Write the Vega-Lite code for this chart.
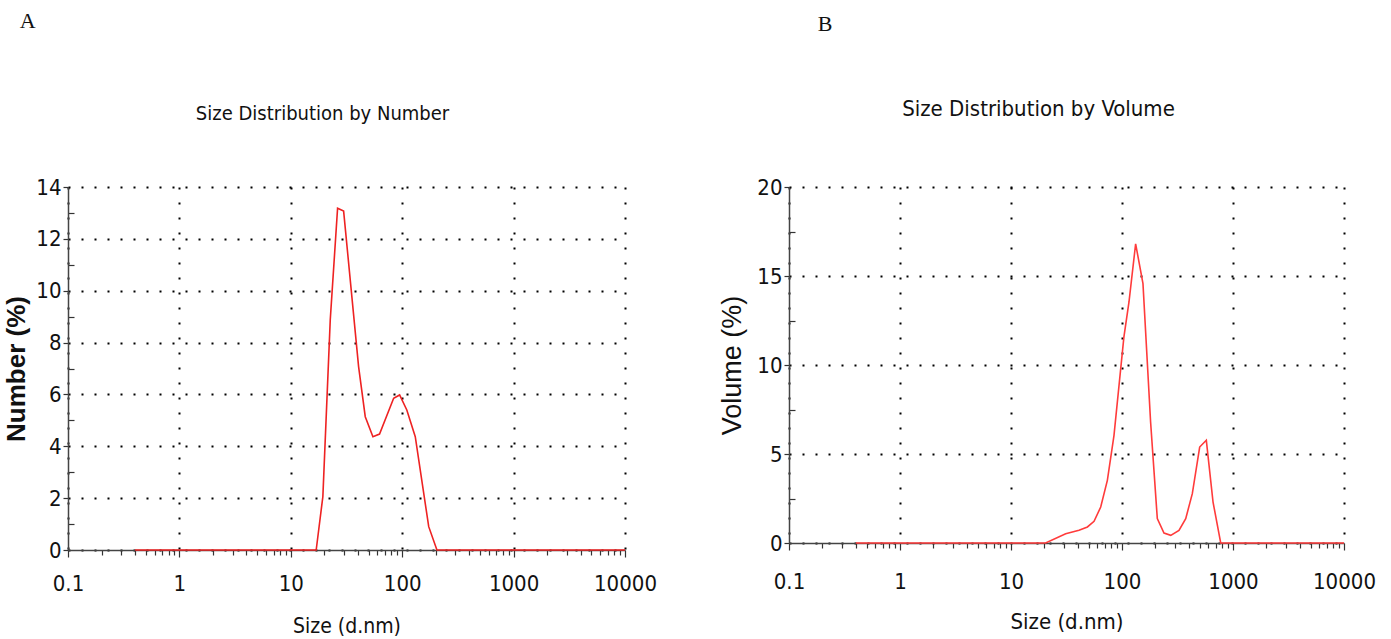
{
  "$schema": "https://vega.github.io/schema/vega-lite/v6.json",
  "background": "white",
  "padding": {"top": 10, "left": 3, "right": 5, "bottom": 5},
  "spacing": 61,
  "config": {
    "view": {"stroke": null},
    "axis": {
      "domainColor": "#444",
      "domainWidth": 1.5,
      "tickColor": "#333",
      "tickWidth": 1.2,
      "labelFont": "DejaVu Sans Condensed, Liberation Sans",
      "labelFontSize": 22,
      "labelColor": "#111",
      "titleFont": "Liberation Sans",
      "titleColor": "#111",
      "titleFontWeight": "normal",
      "gridColor": "#000",
      "gridWidth": 2,
      "labelOverlap": false,
      "labelBound": false,
      "labelFlush": false
    },
    "title": {"font": "DejaVu Sans Condensed, Liberation Sans", "fontSize": 22, "fontWeight": "normal", "color": "#111"}
  },
  "datasets": {
    "number": [
      {"size": 0.4, "pct": 0},
      {"size": 16.9, "pct": 0},
      {"size": 19.4, "pct": 2.06},
      {"size": 22.6, "pct": 8.87},
      {"size": 26.3, "pct": 13.18},
      {"size": 29.8, "pct": 13.07},
      {"size": 40.6, "pct": 7.07},
      {"size": 46.6, "pct": 5.14},
      {"size": 54.6, "pct": 4.37},
      {"size": 62.6, "pct": 4.47},
      {"size": 83.8, "pct": 5.85},
      {"size": 94.8, "pct": 5.98},
      {"size": 110, "pct": 5.4},
      {"size": 131, "pct": 4.37},
      {"size": 173, "pct": 0.9},
      {"size": 205, "pct": 0},
      {"size": 10000, "pct": 0}
    ],
    "volume": [
      {"size": 0.4, "pct": 0},
      {"size": 20.5, "pct": 0},
      {"size": 31.1, "pct": 0.52},
      {"size": 41, "pct": 0.71},
      {"size": 48.8, "pct": 0.9},
      {"size": 56, "pct": 1.22},
      {"size": 64.3, "pct": 2.02},
      {"size": 73.8, "pct": 3.52},
      {"size": 84.7, "pct": 6.05},
      {"size": 104, "pct": 11.57},
      {"size": 115.6, "pct": 13.54},
      {"size": 132.7, "pct": 16.81},
      {"size": 154.5, "pct": 14.57},
      {"size": 181, "pct": 6.8},
      {"size": 208, "pct": 1.37},
      {"size": 239, "pct": 0.56},
      {"size": 275, "pct": 0.43},
      {"size": 326, "pct": 0.71},
      {"size": 375, "pct": 1.37},
      {"size": 430, "pct": 2.77},
      {"size": 501, "pct": 5.39},
      {"size": 575, "pct": 5.77},
      {"size": 661, "pct": 2.3},
      {"size": 775, "pct": 0},
      {"size": 10000, "pct": 0}
    ]
  },
  "hconcat": [
    {
      "title": {"text": "A", "anchor": "start", "frame": "bounds", "font": "Liberation Serif", "fontSize": 22, "dx": 16, "offset": 71},
      "vconcat": [
        {
          "title": {"text": "Size Distribution by Number", "fontSize": 20, "dx": -24, "offset": 52},
          "width": 557,
          "height": 363,
          "data": {"name": "number"},
          "mark": {"type": "line", "color": "#ee2222", "strokeWidth": 1.6},
          "encoding": {
            "x": {
              "field": "size", "type": "quantitative",
              "scale": {"type": "log", "domain": [0.1, 10000], "nice": false},
              "axis": {
                "title": "Size (d.nm)",
                "titleFont": "DejaVu Sans Condensed, Liberation Sans",
                "titleFontSize": 21,
                "titlePadding": 21,
                "values": [0.1,0.2,0.3,0.4,0.5,0.6,0.7,0.8,0.9,1,2,3,4,5,6,7,8,9,10,20,30,40,50,60,70,80,90,100,200,300,400,500,600,700,800,900,1000,2000,3000,4000,5000,6000,7000,8000,9000,10000],
                "labelExpr": "abs(log(datum.value)/LN10 - round(log(datum.value)/LN10)) < 1e-6 ? format(datum.value, '~g') : ''",
                "labelPadding": 16,
                "tickSize": {"condition": {"test": "abs(log(datum.value)/LN10 - round(log(datum.value)/LN10)) < 1e-6", "value": 7}, "value": 5},
                "grid": true,
                "gridDash": [2, 13],
                "gridOpacity": {"condition": {"test": "abs(log(datum.value)/LN10 - round(log(datum.value)/LN10)) < 1e-6", "value": 1}, "value": 0}
              }
            },
            "y": {
              "field": "pct", "type": "quantitative",
              "scale": {"domain": [0, 14], "nice": false},
              "axis": {
                "title": "Number (%)",
                "titleFontSize": 26,
                "titleFontWeight": "bold",
                "titlePadding": 6,
                "values": [0,1,2,3,4,5,6,7,8,9,10,11,12,13,14],
                "labelExpr": "datum.value % 2 == 0 ? datum.value : ''",
                "labelPadding": 2,
                "tickSize": {"condition": {"test": "datum.value % 2 == 0", "value": 5}, "value": -6},
                "grid": true,
                "gridDash": [2, 11],
                "gridOpacity": {"condition": {"test": "datum.value % 2 == 0", "value": 1}, "value": 0}
              }
            }
          }
        }
      ]
    },
    {
      "title": {"text": "B", "anchor": "start", "frame": "bounds", "font": "Liberation Serif", "fontSize": 22, "dx": 99, "dy": -2, "offset": 60},
      "vconcat": [
        {
          "title": {"text": "Size Distribution by Volume", "dx": -28, "offset": 55},
          "width": 555,
          "height": 356,
          "data": {"name": "volume"},
          "mark": {"type": "line", "color": "#ff3b3b", "strokeWidth": 1.6},
          "encoding": {
            "x": {
              "field": "size", "type": "quantitative",
              "scale": {"type": "log", "domain": [0.1, 10000], "nice": false},
              "axis": {
                "title": "Size (d.nm)",
                "titleFont": "DejaVu Sans Condensed, Liberation Sans",
                "titleFontSize": 22,
                "titlePadding": 19,
                "values": [0.1,0.2,0.3,0.4,0.5,0.6,0.7,0.8,0.9,1,2,3,4,5,6,7,8,9,10,20,30,40,50,60,70,80,90,100,200,300,400,500,600,700,800,900,1000,2000,3000,4000,5000,6000,7000,8000,9000,10000],
                "labelExpr": "abs(log(datum.value)/LN10 - round(log(datum.value)/LN10)) < 1e-6 ? format(datum.value, '~g') : ''",
                "labelPadding": 21,
                "tickSize": {"condition": {"test": "abs(log(datum.value)/LN10 - round(log(datum.value)/LN10)) < 1e-6", "value": 7}, "value": 5},
                "grid": true,
                "gridDash": [2, 13],
                "gridOpacity": {"condition": {"test": "abs(log(datum.value)/LN10 - round(log(datum.value)/LN10)) < 1e-6", "value": 1}, "value": 0}
              }
            },
            "y": {
              "field": "pct", "type": "quantitative",
              "scale": {"domain": [0, 20], "nice": false},
              "axis": {
                "title": "Volume (%)",
                "titleFontSize": 27,
                "titlePadding": 10,
                "values": [0,2.5,5,7.5,10,12.5,15,17.5,20],
                "labelExpr": "datum.value % 5 == 0 ? datum.value : ''",
                "labelPadding": 2,
                "tickSize": {"condition": {"test": "datum.value % 5 == 0", "value": 5}, "value": -6},
                "grid": true,
                "gridDash": [2, 11],
                "gridOpacity": {"condition": {"test": "datum.value % 5 == 0", "value": 1}, "value": 0}
              }
            }
          }
        }
      ]
    }
  ]
}
